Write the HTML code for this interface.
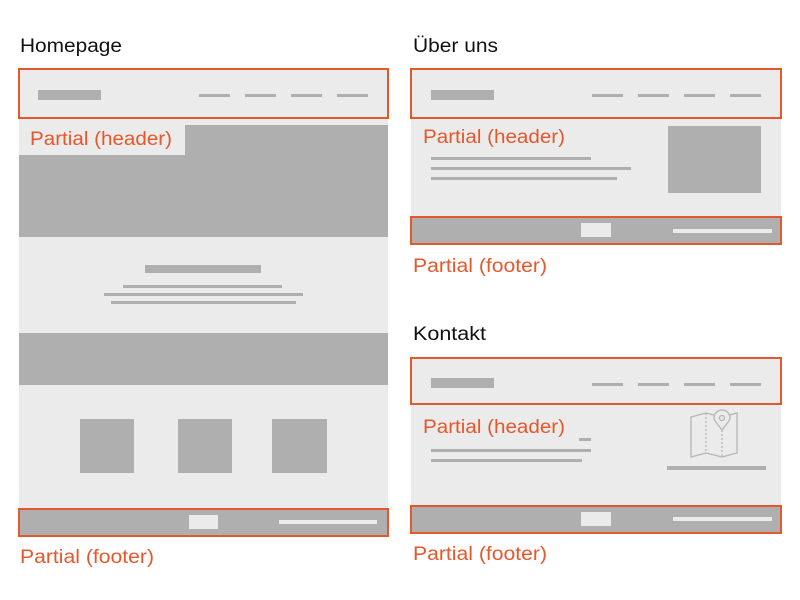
<!DOCTYPE html>
<html><head><meta charset="utf-8"><style>html,body{margin:0;padding:0;background:#fff}svg{display:block}</style></head><body>
<svg width="800" height="600" viewBox="0 0 800 600" xmlns="http://www.w3.org/2000/svg" font-family="Liberation Sans, DejaVu Sans, sans-serif">
<g fill="#ebebeb">
<rect x="19" y="69" width="369" height="468"/>
<rect x="411" y="69" width="370" height="175"/>
<rect x="411" y="358" width="370" height="175"/>
</g>
<g fill="#afafaf">
<!-- homepage -->
<rect x="19" y="125" width="369" height="112"/>
<rect x="19" y="333" width="369" height="52"/>
<rect x="145" y="265" width="116" height="8"/>
<rect x="123" y="285" width="159" height="3"/>
<rect x="104" y="293" width="199" height="3"/>
<rect x="111" y="301" width="185" height="3"/>
<rect x="80" y="419" width="54" height="54"/>
<rect x="178" y="419" width="54" height="54"/>
<rect x="272" y="419" width="55" height="54"/>
<rect x="19" y="509" width="369" height="27"/>
<rect x="38" y="90" width="63" height="10"/>
<rect x="199" y="94" width="31" height="3"/><rect x="245" y="94" width="31" height="3"/><rect x="291" y="94" width="31" height="3"/><rect x="337" y="94" width="31" height="3"/>
<!-- uber -->
<rect x="431" y="90" width="63" height="10"/>
<rect x="592" y="94" width="31" height="3"/><rect x="638" y="94" width="31" height="3"/><rect x="684" y="94" width="31" height="3"/><rect x="730" y="94" width="31" height="3"/>
<rect x="431" y="157" width="160" height="3"/>
<rect x="431" y="167" width="200" height="3"/>
<rect x="431" y="177" width="186" height="3"/>
<rect x="668" y="126" width="93" height="67"/>
<rect x="411" y="217" width="370" height="27"/>
<!-- kontakt -->
<rect x="431" y="378" width="63" height="10"/>
<rect x="592" y="383" width="31" height="3"/><rect x="638" y="383" width="31" height="3"/><rect x="684" y="383" width="31" height="3"/><rect x="730" y="383" width="31" height="3"/>
<rect x="579" y="438" width="12" height="3"/>
<rect x="431" y="449" width="160" height="3"/>
<rect x="431" y="459" width="151" height="3"/>
<rect x="667" y="466" width="99" height="4"/>
<rect x="411" y="506" width="370" height="27"/>
</g>
<rect x="19" y="125" width="166" height="30" fill="#ebebeb"/>
<g fill="#ebebeb">
<rect x="189" y="515" width="29" height="14"/><rect x="279" y="520" width="98" height="4"/>
<rect x="581" y="223" width="30" height="14"/><rect x="673" y="229" width="99" height="4"/>
<rect x="581" y="512" width="30" height="14"/><rect x="673" y="517" width="99" height="4"/>
</g>
<!-- map icon -->
<g fill="none" stroke="#b5b5b5" stroke-width="1.3">
<path d="M691 417 L706 413 L722 417 L737 413 L737 453 L722 457 L706 453 L691 457 Z"/>
<path d="M706 413 V453 M722 430 V457" stroke-dasharray="2 2"/>
<path d="M722 430 C715 421 714 420 714 418 A8 8 0 0 1 730 418 C730 420 729 421 722 430 Z" fill="#ebebeb"/>
<circle cx="722" cy="418" r="2.5"/>
</g>
<g fill="none" stroke="#e4582b" stroke-width="2">
<rect x="19" y="69" width="369" height="49"/>
<rect x="19" y="509" width="369" height="27"/>
<rect x="411" y="69" width="370" height="49"/>
<rect x="411" y="217" width="370" height="27"/>
<rect x="411" y="358" width="370" height="46"/>
<rect x="411" y="506" width="370" height="27"/>
</g>
<g font-size="19" fill="#111">
<text x="20" y="52" textLength="102" lengthAdjust="spacingAndGlyphs">Homepage</text>
<text x="413" y="52" textLength="85" lengthAdjust="spacingAndGlyphs">Über uns</text>
<text x="413" y="340" textLength="73" lengthAdjust="spacingAndGlyphs">Kontakt</text>
</g>
<g font-size="19" fill="#e4582b">
<text x="30" y="145" textLength="142" lengthAdjust="spacingAndGlyphs">Partial (header)</text>
<text x="20" y="563" textLength="134" lengthAdjust="spacingAndGlyphs">Partial (footer)</text>
<text x="423" y="143" textLength="142" lengthAdjust="spacingAndGlyphs">Partial (header)</text>
<text x="413" y="272" textLength="134" lengthAdjust="spacingAndGlyphs">Partial (footer)</text>
<text x="423" y="433" textLength="142" lengthAdjust="spacingAndGlyphs">Partial (header)</text>
<text x="413" y="560" textLength="134" lengthAdjust="spacingAndGlyphs">Partial (footer)</text>
</g>
</svg>
</body></html>
